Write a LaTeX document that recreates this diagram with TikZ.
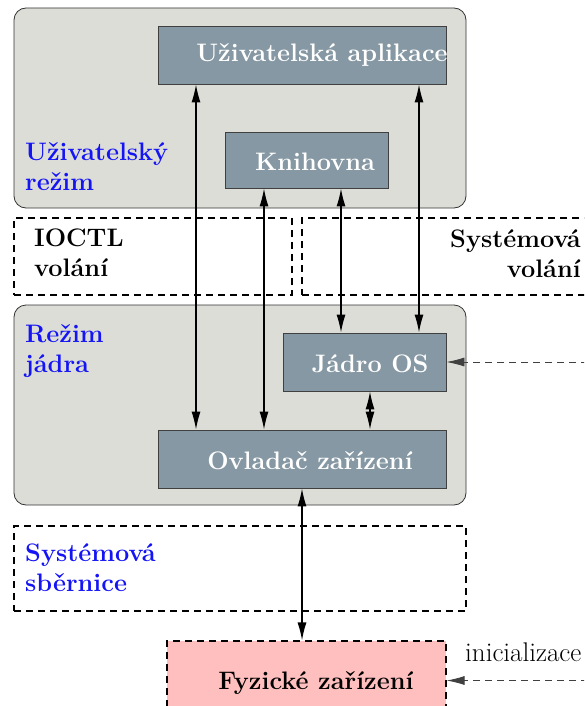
\documentclass[tikz,border=0pt]{standalone}
\usetikzlibrary{arrows.meta}
\definecolor{zone}{RGB}{220,221,215}
\definecolor{unit}{RGB}{134,152,163}
\definecolor{hw}{RGB}{255,191,191}
\definecolor{modeblue}{RGB}{20,20,245}
\begin{document}
\begin{tikzpicture}[x=1pt,y=-1pt,
  font=\fontsize{27}{31}\selectfont,
  zonebox/.style={draw=black!80,fill=zone,rounded corners=12pt,line width=0.8pt},
  unitbox/.style={draw=black!75,fill=unit,line width=0.8pt},
  layerbox/.style={draw=black,line width=1.2pt,dash pattern=on 7pt off 5pt},
  unittext/.style={text=white,font=\fontsize{25.3}{30}\selectfont\bfseries},
  modetext/.style={text=modeblue,font=\fontsize{25.3}{30}\selectfont\bfseries,align=left,anchor=north west,inner sep=0pt},
  layertext/.style={font=\fontsize{25.3}{30}\selectfont\bfseries,inner sep=0pt},
  link/.style={line width=1.3pt,{Latex[length=18pt,width=9pt]}-{Latex[length=18pt,width=9pt]}},
  signal/.style={line width=0.8pt,black!75,dash pattern=on 7pt off 5pt,-{Latex[length=18pt,width=9pt]}}]
\useasboundingbox (0,0) rectangle (584,706);
\clip (0,0) rectangle (584,706);

% user space
\node[zonebox,minimum width=452pt,minimum height=200pt] (user) at (240,108) {};
\node[unitbox,minimum width=288pt,minimum height=58pt] (app) at (302,55) {};
\node[unittext] at (322,55) {Uživatelská aplikace};
\node[unitbox,minimum width=163pt,minimum height=56pt] (lib) at (306.5,160) {};
\node[unittext] at (315,162) {Knihovna};
\node[modetext] (usermode) at (25,142) {Uživatelský\\režim};

% call interfaces
\node[layerbox,minimum width=278pt,minimum height=77pt] (ioctl) at (153,256.5) {};
\node[layertext,align=left,anchor=north west] (ioctltext) at (34,229) {IOCTL\\volání};
\node[layerbox,minimum width=298pt,minimum height=77pt] (sysc) at (451,256.5) {};
\node[layertext,align=right,anchor=north east] (sysctext) at (581,229) {Systémová\\volání};

% kernel space
\node[zonebox,minimum width=452pt,minimum height=200pt] (kernel) at (240,405) {};
\node[modetext] (kernelmode) at (25,324) {Režim\\jádra};
\node[unitbox,minimum width=163pt,minimum height=58pt] (os) at (364.5,362) {};
\node[unittext] at (370,364) {Jádro OS};
\node[unitbox,minimum width=288pt,minimum height=58pt] (drv) at (302,459) {};
\node[unittext] at (310,461) {Ovladač zařízení};

% bus and hardware
\node[layerbox,minimum width=452pt,minimum height=85pt] (bus) at (240,568.5) {};
\node[modetext] (bustext) at (25,543) {Systémová\\sběrnice};
\node[layerbox,fill=hw,minimum width=279pt,minimum height=79pt] (dev) at (306.5,680.5) {};
\node[layertext] at (316,683) {Fyzické zařízení};

% connections
\draw[link] ([xshift=-106pt]drv.north) -- ([xshift=-106pt]app.south);
\draw[link] ([xshift=-38pt]drv.north) -- ([xshift=-42.5pt]lib.south);
\draw[link] ([xshift=34.5pt]lib.south) -- ([xshift=-23.5pt]os.north);
\draw[link] ([xshift=117pt]app.south) -- ([xshift=54.5pt]os.north);
\draw[link] ([xshift=5.5pt]os.south) -- ([xshift=68pt]drv.north);
\draw[link] (drv.south) -- ([xshift=-4.5pt]dev.north);

% external signals
\coordinate (osin) at (600,362);
\coordinate (devin) at (600,680.5);
\draw[signal] (osin) -- (os.east);
\draw[signal] (devin) -- (dev.east);
\node[anchor=south west,inner sep=0pt] (init) at (465,662) {inicializace};
\end{tikzpicture}
\end{document}
